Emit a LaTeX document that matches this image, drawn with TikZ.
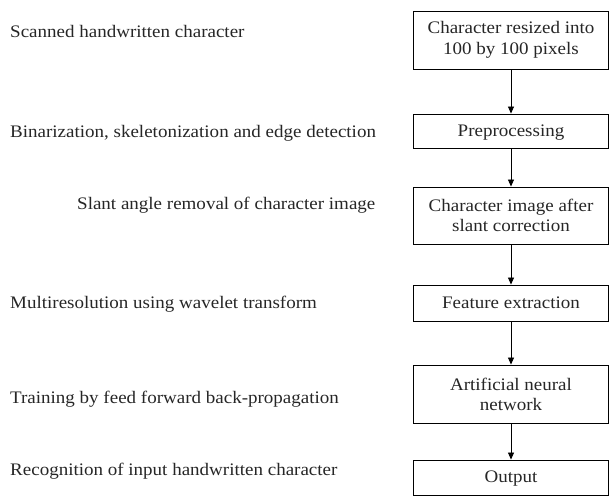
\documentclass[tikz,border=0pt]{standalone}
\usepackage{fontspec}
\setmainfont[FakeStretch=1.08]{Liberation Serif}
\usepackage{tikz}
\usetikzlibrary{arrows.meta}

\tikzset{
  stepbox/.style={draw, line width=0.9pt, minimum width=195pt, inner sep=0pt, align=center},
  oneline/.style={text height=12pt, text depth=2pt},
  steplabel/.style={anchor=base west, inner sep=0pt},
  flow/.style={-{Triangle[length=7pt,width=6pt]}, line width=0.8pt}
}

\begin{document}
\begin{tikzpicture}[x=1pt, y=-1pt, font=\fontsize{17.6}{20}\selectfont, text=black!85]
  \useasboundingbox (0,0) rectangle (610,496);
  % boxes on the right
  \node[stepbox, minimum height=58pt] (resize) at (511,40) {Character resized into\\[1.5pt]100 by 100 pixels};
  \node[stepbox, oneline, minimum height=34pt] (prep) at (511,131) {Preprocessing};
  \node[stepbox, minimum height=57pt] (slant) at (511,215.5) {Character image after\\slant correction};
  \node[stepbox, oneline, minimum height=36pt] (feat) at (511,303) {Feature extraction};
  \node[stepbox, minimum height=58pt] (ann) at (511,394) {Artificial neural\\network};
  \node[stepbox, oneline, minimum height=35pt] (out) at (511,477.5) {Output};
  % labels on the left
  \node[steplabel] (l1) at (10,37) {Scanned handwritten character};
  \node[steplabel] (l2) at (10,137) {Binarization, skeletonization and edge detection};
  \node[steplabel] (l3) at (77,209) {Slant angle removal of character image};
  \node[steplabel] (l4) at (10,308) {Multiresolution using wavelet transform};
  \node[steplabel] (l5) at (10,403) {Training by feed forward back-propagation};
  \node[steplabel] (l6) at (10,475) {Recognition of input handwritten character};
  \path[flow]
  (resize) edge (prep)
  (prep) edge (slant)
  (slant) edge (feat)
  (feat) edge (ann)
  (ann) edge (out)
  ;
\end{tikzpicture}
\end{document}
